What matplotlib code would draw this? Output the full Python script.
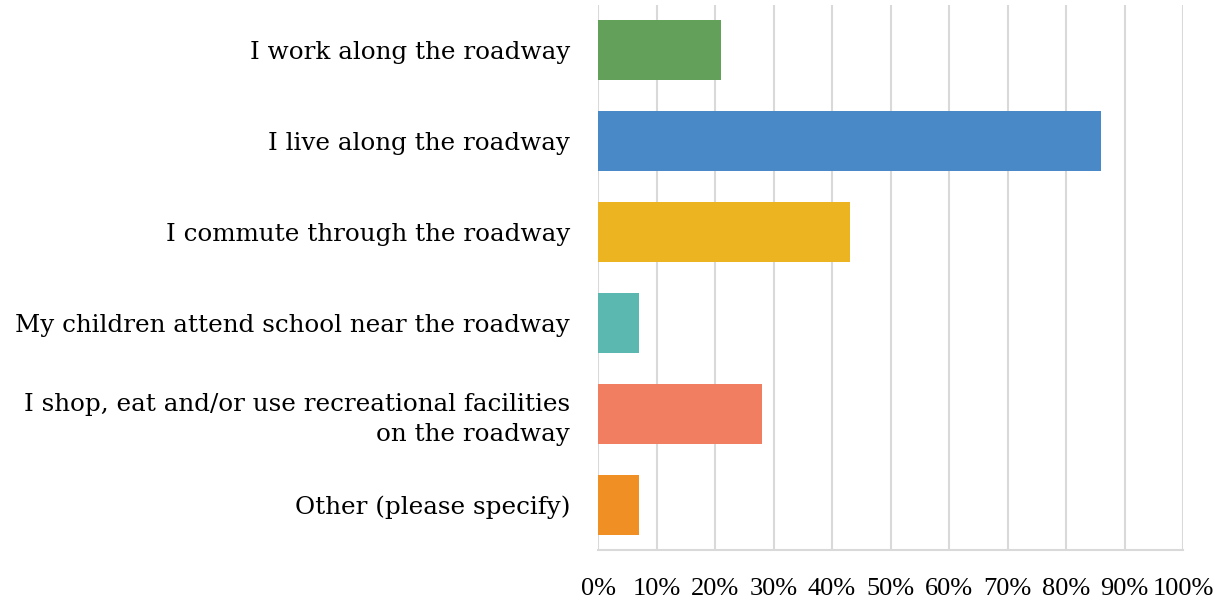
import matplotlib
matplotlib.use("Agg")
import matplotlib.pyplot as plt
from matplotlib.ticker import PercentFormatter

categories = [
    "I work along the roadway",
    "I live along the roadway",
    "I commute through the roadway",
    "My children attend school near the roadway",
    "I shop, eat and/or use recreational facilities\non the roadway",
    "Other (please specify)",
]
values = [21, 86, 43, 7, 28, 7]
colors = ["#63A05A", "#4A89C8", "#EDB422", "#5AB8B0", "#F27E62", "#F08F24"]
xticks = list(range(0, 101, 10))

plt.rcParams['font.family'] = ['DejaVu Serif']

fig = plt.figure(figsize=(12.21, 6.02), dpi=100)
ax = fig.add_axes([598/1221, 1-550/602, (1183-598)/1221, 545/602])

ypos = list(range(len(categories)))
ax.barh(ypos, values, height=0.66, color=colors, zorder=3)
ax.set_ylim(len(categories)-0.5, -0.5)
ax.set_xlim(0, 100)
ax.set_xticks(xticks)
ax.xaxis.set_major_formatter(PercentFormatter(decimals=0))
ax.set_yticks(ypos)
ax.set_yticklabels(categories, ha='right', multialignment='right', fontsize=17.7,
                   linespacing=1.4)

for s in ['top', 'right', 'left']:
    ax.spines[s].set_visible(False)
ax.spines['bottom'].set_color('#D9D9D9')
ax.spines['bottom'].set_linewidth(1.5)
ax.grid(axis='x', color='#D9D9D9', linewidth=1.5, zorder=0)
ax.tick_params(axis='both', length=0, colors='black')
ax.tick_params(axis='x', pad=20)
ax.tick_params(axis='y', pad=20)
for lab in ax.get_xticklabels():
    lab.set_fontfamily('Liberation Serif')
    lab.set_fontsize(19)

fig.savefig("out.png", dpi=100)
